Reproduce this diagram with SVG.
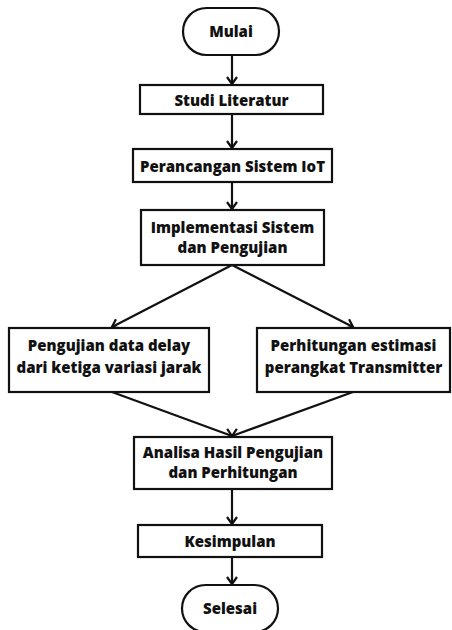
<svg xmlns="http://www.w3.org/2000/svg" width="452" height="630" viewBox="0 0 452 630">
<style>
.box{fill:#fff;stroke:#111;stroke-width:2.2}
.t{font-family:"Open Sans","Liberation Sans",sans-serif;font-weight:800;font-size:15px;fill:#111;text-anchor:middle;dominant-baseline:central}
.c{fill:none;stroke:#111;stroke-width:2.2}
</style>
<defs>
<marker id="ah" markerWidth="12" markerHeight="12" refX="10" refY="6" orient="auto" markerUnits="userSpaceOnUse">
<polyline points="3,1 10,6 3,11" fill="none" stroke="#111" stroke-width="2.2"/>
</marker>
</defs>
<rect width="452" height="630" fill="#fff"/>
<g id="connectors">
<line class="c" x1="232" y1="55" x2="232" y2="84" marker-end="url(#ah)"/>
<line class="c" x1="232" y1="114" x2="232" y2="148" marker-end="url(#ah)"/>
<line class="c" x1="232" y1="182" x2="232" y2="209" marker-end="url(#ah)"/>
<line class="c" x1="232" y1="265" x2="112" y2="327" marker-end="url(#ah)"/>
<line class="c" x1="232" y1="265" x2="353" y2="327" marker-end="url(#ah)"/>
<line class="c" x1="112" y1="392" x2="232" y2="436" marker-end="url(#ah)"/>
<line class="c" x1="353" y1="392" x2="232" y2="436" marker-end="url(#ah)"/>
<line class="c" x1="232" y1="489" x2="232" y2="524" marker-end="url(#ah)"/>
<line class="c" x1="232" y1="557" x2="232" y2="584" marker-end="url(#ah)"/>
</g>
<g id="mulai"><rect class="box" x="183" y="8" width="96" height="47" rx="23.5"/><text class="t" x="231" y="31">Mulai</text></g>
<g id="studi"><rect class="box" x="140" y="85" width="183" height="29"/><text class="t" x="231.5" y="99.5">Studi Literatur</text></g>
<g id="perancangan"><rect class="box" x="133" y="149" width="199" height="33"/><text class="t" x="232.5" y="165.5">Perancangan Sistem IoT</text></g>
<g id="implementasi"><rect class="box" x="141" y="210" width="183" height="55"/><text class="t" x="232.5" y="227">Implementasi Sistem</text><text class="t" x="232.5" y="247">dan Pengujian</text></g>
<g id="pengujian"><rect class="box" x="9" y="328" width="200" height="64"/><text class="t" x="109" y="345">Pengujian data delay</text><text class="t" x="109" y="367">dari ketiga variasi jarak</text></g>
<g id="perhitungan"><rect class="box" x="257" y="328" width="193" height="64"/><text class="t" x="353.5" y="345">Perhitungan estimasi</text><text class="t" x="353.5" y="367">perangkat Transmitter</text></g>
<g id="analisa"><rect class="box" x="134" y="437" width="198" height="52"/><text class="t" x="233" y="452">Analisa Hasil Pengujian</text><text class="t" x="233" y="472">dan Perhitungan</text></g>
<g id="kesimpulan"><rect class="box" x="138" y="525" width="184" height="32"/><text class="t" x="230" y="541">Kesimpulan</text></g>
<g id="selesai"><rect class="box" x="182" y="585" width="96" height="47" rx="23.5"/><text class="t" x="230" y="608">Selesai</text></g>
</svg>
